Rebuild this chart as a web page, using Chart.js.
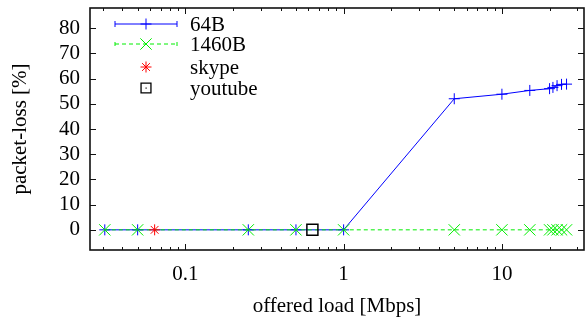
<!DOCTYPE html>
<html><head><meta charset="utf-8">
<script src="https://cdn.jsdelivr.net/npm/chart.js@4.4.0/dist/chart.umd.min.js"></script>
<style>html,body{margin:0;padding:0;background:#fff;overflow:hidden;}</style>
</head><body>
<canvas id="c" width="585" height="320"></canvas>
<script>
// ---- data ----
const loadMbps   = [0.031, 0.05, 0.25, 0.5, 1, 5, 10, 15, 20, 21, 22.3, 23.8, 25.6];
const loss64B    = [0, 0, 0, 0, 0, 52.0, 53.8, 55.3, 56.0, 56.5, 57.2, 57.7, 57.8];
const loss1460B  = [0, 0, 0, 0, 0, 0, 0, 0, 0, 0, 0, 0, 0];
const skypeLoad  = [0.064];
const skypeLoss  = [0];
const youtubeLoad = [0.635];
const youtubeLoss = [0];
const seriesNames = ['64B', '1460B', 'skype', 'youtube'];
const yTickValues = [0, 10, 20, 30, 40, 50, 60, 70, 80];
const xMajorTicks = [0.1, 1, 10];
const xMinorTicks = [0.03,0.04,0.05,0.06,0.07,0.08,0.09,0.2,0.3,0.4,0.5,0.6,0.7,0.8,0.9,2,3,4,5,6,7,8,9,20,30];
const xTitle = 'offered load [Mbps]';
const yTitle = 'packet-loss [%]';

const FONT = {family: '"Liberation Serif", "Times New Roman", serif', size: 21};
const BLUE = '#0000ff', GREEN = '#00ee00', RED = '#ff0000', BLACK = '#000000';

const pts = (xs, ys) => xs.map((x, i) => ({x: x, y: ys[i]}));
const noPad = s => { s.paddingTop = 0; s.paddingBottom = 0; s.paddingLeft = 0; s.paddingRight = 0; };

const framePlugin = {
  id: 'frame',
  beforeDatasetsDraw(chart) {
    const {ctx, chartArea: a, scales} = chart;
    ctx.save();
    ctx.strokeStyle = '#111';
    ctx.lineWidth = 1;
    ctx.beginPath();
    xMajorTicks.forEach(v => {
      const p = Math.round(scales.x.getPixelForValue(v)) + 0.5;
      ctx.moveTo(p, a.bottom); ctx.lineTo(p, a.bottom - 6);
      ctx.moveTo(p, a.top); ctx.lineTo(p, a.top + 6);
    });
    xMinorTicks.forEach(v => {
      const p = Math.round(scales.x.getPixelForValue(v)) + 0.5;
      ctx.moveTo(p, a.bottom); ctx.lineTo(p, a.bottom - 3);
      ctx.moveTo(p, a.top); ctx.lineTo(p, a.top + 3);
    });
    yTickValues.forEach(v => {
      const p = Math.round(scales.y.getPixelForValue(v)) + 0.5;
      ctx.moveTo(a.left, p); ctx.lineTo(a.left + 6, p);
      ctx.moveTo(a.right, p); ctx.lineTo(a.right - 6, p);
    });
    ctx.stroke();
    ctx.lineWidth = 1.6;
    ctx.strokeStyle = '#111';
    ctx.strokeRect(a.left, a.top, a.right - a.left, a.bottom - a.top);
    ctx.restore();
  }
};

const legendPlugin = {
  id: 'gpLegend',
  afterDatasetsDraw(chart) {
    const {ctx, chartArea: a} = chart;
    const x0 = a.left + 25, x1 = a.left + 87, xm = a.left + 56, xt = a.left + 100;
    const rows = [a.top + 16, a.top + 36, a.top + 59, a.top + 80];
    ctx.save();
    // 64B
    ctx.strokeStyle = BLUE; ctx.lineWidth = 1;
    ctx.beginPath();
    ctx.moveTo(x0, rows[0]); ctx.lineTo(x1, rows[0]);
    ctx.moveTo(x0, rows[0] - 3); ctx.lineTo(x0, rows[0] + 3);
    ctx.moveTo(x1, rows[0] - 3); ctx.lineTo(x1, rows[0] + 3);
    ctx.stroke();
    Chart.helpers.drawPoint(ctx, {pointStyle: 'cross', radius: 5.5, rotation: 0, borderWidth: 1}, xm, rows[0]);
    // 1460B
    ctx.strokeStyle = GREEN; ctx.lineWidth = 1;
    ctx.setLineDash([4, 3]);
    ctx.beginPath(); ctx.moveTo(x0, rows[1]); ctx.lineTo(x1, rows[1]); ctx.stroke();
    ctx.setLineDash([]);
    ctx.beginPath();
    ctx.moveTo(x0, rows[1] - 2); ctx.lineTo(x0, rows[1] + 2);
    ctx.moveTo(x1, rows[1] - 2); ctx.lineTo(x1, rows[1] + 2);
    ctx.stroke();
    Chart.helpers.drawPoint(ctx, {pointStyle: 'crossRot', radius: 8, rotation: 0, borderWidth: 1}, xm, rows[1]);
    // skype
    ctx.strokeStyle = RED;
    Chart.helpers.drawPoint(ctx, {pointStyle: 'star', radius: 5.5, rotation: 0, borderWidth: 1}, xm, rows[2]);
    // youtube
    ctx.strokeStyle = BLACK; ctx.fillStyle = 'rgba(0,0,0,0)'; ctx.lineWidth = 1.3;
    Chart.helpers.drawPoint(ctx, {pointStyle: 'rect', radius: 7, rotation: 0, borderWidth: 1.3}, xm, rows[3]);
    ctx.fillStyle = BLACK;
    ctx.fillRect(xm - 0.5, rows[3] - 0.5, 1.2, 1.2);
    // texts
    ctx.fillStyle = BLACK;
    ctx.font = FONT.size + 'px ' + FONT.family;
    ctx.textAlign = 'left'; ctx.textBaseline = 'middle';
    seriesNames.forEach((n, i) => ctx.fillText(n, xt, rows[i] + 1));
    ctx.restore();
  }
};

new Chart(document.getElementById('c'), {
  type: 'scatter',
  data: {
    datasets: [
      {label: seriesNames[3], data: pts(youtubeLoad, youtubeLoss), order: 0, showLine: false,
       pointStyle: 'rect', pointRadius: 7.8, borderColor: BLACK, backgroundColor: 'rgba(0,0,0,0)', pointBorderWidth: 1.5},
      {label: seriesNames[2], data: pts(skypeLoad, skypeLoss), order: 1, showLine: false,
       pointStyle: 'star', pointRadius: 5.5, borderColor: RED, backgroundColor: RED, pointBorderWidth: 1},
      {label: seriesNames[1], data: pts(loadMbps, loss1460B), order: 2, showLine: true,
       borderColor: GREEN, backgroundColor: GREEN, borderWidth: 1, borderDash: [4, 3],
       pointStyle: 'crossRot', pointRadius: 8, pointBorderWidth: 1, tension: 0, fill: false},
      {label: seriesNames[0], data: pts(loadMbps, loss64B), order: 3, showLine: true,
       borderColor: BLUE, backgroundColor: BLUE, borderWidth: 1,
       pointStyle: 'cross', pointRadius: 5.5, pointBorderWidth: 1, tension: 0, fill: false}
    ]
  },
  options: {
    responsive: false, animation: false, devicePixelRatio: 1,
    layout: {autoPadding: false, padding: {top: 8, right: 1, left: 0, bottom: 0}},
    plugins: {legend: {display: false}, tooltip: {enabled: false}},
    scales: {
      x: {
        type: 'logarithmic', min: 0.025, max: 33,
        grid: {display: false, drawTicks: false}, border: {display: false},
        afterBuildTicks: s => { s.ticks = xMajorTicks.map(v => ({value: v})); },
        afterFit: s => { s.height = 70; noPad(s); },
        ticks: {font: FONT, color: BLACK, padding: 12, autoSkip: false, maxRotation: 0,
                callback: v => String(v)},
        title: {display: true, text: xTitle, font: FONT, color: BLACK, padding: {top: 0, bottom: 1}}
      },
      y: {
        type: 'linear', min: -8, max: 88,
        grid: {display: false, drawTicks: false}, border: {display: false},
        afterBuildTicks: s => { s.ticks = yTickValues.map(v => ({value: v})); },
        afterFit: s => { s.width = 90; noPad(s); },
        ticks: {font: FONT, color: BLACK, padding: 10, callback: v => String(v)},
        title: {display: true, text: yTitle, font: FONT, color: BLACK, padding: {top: 8, bottom: 0}}
      }
    }
  },
  plugins: [framePlugin, legendPlugin]
});
</script>
</body></html>
